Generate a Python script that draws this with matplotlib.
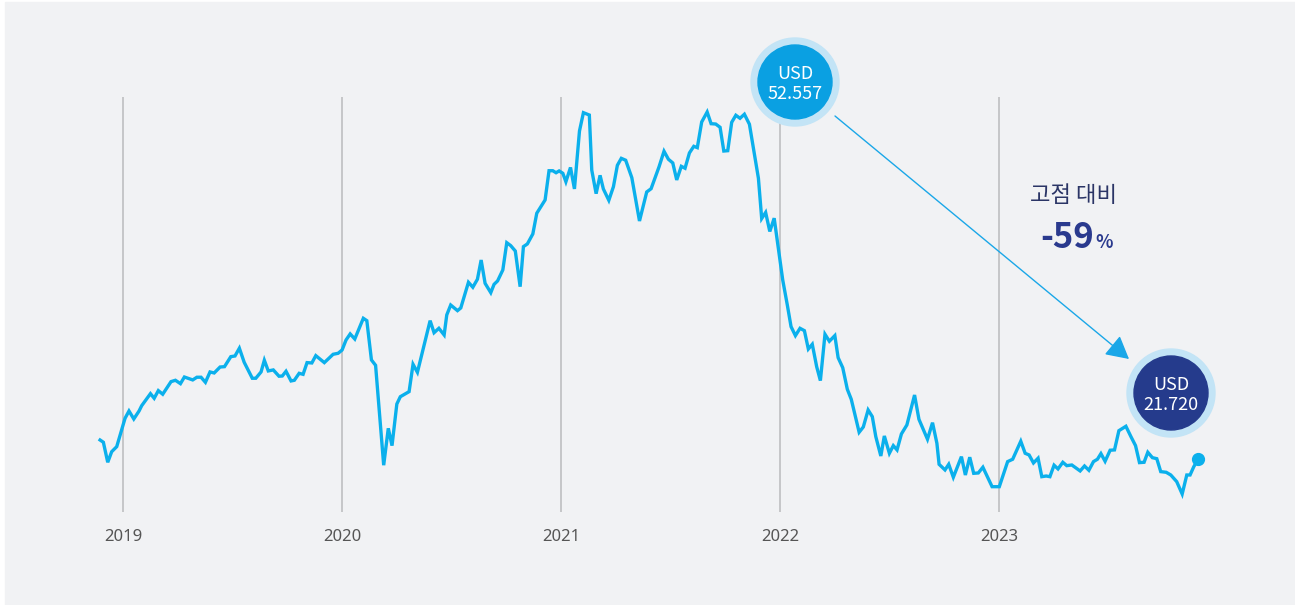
"""
    weekly price line 2018-11 ~ 2023-11
    peak vs latest bubble chart
"""
import matplotlib
matplotlib.use('Agg')
import matplotlib.pyplot as plt
from matplotlib.patches import Circle, Rectangle

plt.rcParams['font.family'] = ['Noto Sans CJK KR', 'DejaVu Sans']

# time in decimal years, price in USD
t_year = [2018.895, 2018.910, 2018.930, 2018.948, 2018.971, 2019.009, 2019.027, 2019.049, 2019.073, 2019.085,
          2019.125, 2019.142, 2019.161, 2019.181, 2019.219, 2019.239, 2019.262, 2019.280, 2019.318, 2019.337,
          2019.356, 2019.376, 2019.397, 2019.416, 2019.443, 2019.463, 2019.492, 2019.511, 2019.531, 2019.553,
          2019.590, 2019.606, 2019.630, 2019.645, 2019.663, 2019.686, 2019.712, 2019.727, 2019.744, 2019.767,
          2019.782, 2019.804, 2019.822, 2019.840, 2019.862, 2019.880, 2019.919, 2019.959, 2019.982, 2020.000,
          2020.018, 2020.037, 2020.058, 2020.097, 2020.113, 2020.134, 2020.153, 2020.190, 2020.211, 2020.228,
          2020.250, 2020.266, 2020.306, 2020.324, 2020.344, 2020.402, 2020.420, 2020.442, 2020.466, 2020.478,
          2020.496, 2020.527, 2020.542, 2020.577, 2020.597, 2020.618, 2020.635, 2020.653, 2020.679, 2020.694,
          2020.710, 2020.734, 2020.752, 2020.770, 2020.791, 2020.813, 2020.828, 2020.846, 2020.871, 2020.889,
          2020.927, 2020.945, 2020.962, 2020.977, 2020.991, 2021.008, 2021.022, 2021.043, 2021.061, 2021.084,
          2021.102, 2021.129, 2021.140, 2021.160, 2021.178, 2021.193, 2021.218, 2021.239, 2021.257, 2021.275,
          2021.295, 2021.323, 2021.358, 2021.391, 2021.411, 2021.447, 2021.470, 2021.490, 2021.510, 2021.528,
          2021.549, 2021.566, 2021.586, 2021.606, 2021.622, 2021.642, 2021.667, 2021.685, 2021.706, 2021.726,
          2021.743, 2021.761, 2021.779, 2021.798, 2021.817, 2021.837, 2021.860, 2021.901, 2021.916, 2021.934,
          2021.953, 2021.973, 2022.012, 2022.033, 2022.050, 2022.070, 2022.091, 2022.111, 2022.129, 2022.147,
          2022.167, 2022.184, 2022.205, 2022.225, 2022.250, 2022.265, 2022.286, 2022.307, 2022.325, 2022.361,
          2022.380, 2022.402, 2022.421, 2022.437, 2022.460, 2022.476, 2022.499, 2022.517, 2022.534, 2022.554,
          2022.579, 2022.614, 2022.634, 2022.673, 2022.696, 2022.716, 2022.726, 2022.753, 2022.770, 2022.791,
          2022.828, 2022.846, 2022.866, 2022.884, 2022.905, 2022.926, 2022.968, 2023.001, 2023.039, 2023.062,
          2023.099, 2023.119, 2023.137, 2023.157, 2023.178, 2023.195, 2023.215, 2023.232, 2023.251, 2023.269,
          2023.291, 2023.309, 2023.332, 2023.370, 2023.390, 2023.410, 2023.431, 2023.449, 2023.465, 2023.484,
          2023.507, 2023.527, 2023.547, 2023.579, 2023.602, 2023.623, 2023.641, 2023.662, 2023.679, 2023.700,
          2023.720, 2023.738, 2023.763, 2023.784, 2023.811, 2023.836, 2023.857, 2023.872, 2023.889, 2023.910]

price = [23.40, 23.20, 21.42, 22.36, 22.81, 25.33, 25.98, 25.27, 25.98, 26.45,
         27.52, 27.11, 27.79, 27.47, 28.59, 28.71, 28.41, 29.00, 28.74, 28.98,
         28.98, 28.53, 29.45, 29.36, 29.89, 29.92, 30.81, 30.87, 31.56, 30.31,
         28.89, 28.89, 29.45, 30.49, 29.54, 29.63, 29.07, 29.09, 29.51, 28.65,
         28.71, 29.33, 29.24, 30.28, 30.25, 30.90, 30.28, 31.02, 31.11, 31.40,
         32.29, 32.83, 32.38, 34.22, 34.01, 30.52, 30.04, 21.16, 24.44, 22.90,
         26.60, 27.25, 27.70, 30.13, 29.42, 34.01, 32.94, 33.33, 32.74, 34.52,
         35.40, 34.90, 35.14, 37.42, 36.98, 37.69, 39.40, 37.33, 36.50, 37.24,
         37.54, 38.52, 40.94, 40.68, 40.20, 37.03, 40.59, 40.83, 41.72, 43.56,
         44.74, 47.34, 47.34, 47.16, 47.32, 47.11, 46.36, 47.63, 45.72, 50.87,
         52.50, 52.29, 47.40, 45.30, 46.93, 45.72, 44.71, 45.92, 47.82, 48.44,
         48.27, 46.72, 42.87, 45.45, 45.74, 47.67, 49.07, 48.36, 48.03, 46.52,
         47.73, 47.56, 48.92, 49.51, 49.39, 51.67, 52.557, 51.52, 51.49, 51.20,
         49.09, 49.12, 51.64, 52.27, 52.00, 52.36, 51.47, 46.67, 43.09, 43.63,
         41.94, 43.12, 37.63, 35.40, 33.48, 32.68, 33.33, 33.12, 31.49, 31.91,
         29.92, 28.68, 32.80, 32.18, 32.68, 30.72, 29.83, 27.91, 27.02, 24.09,
         24.56, 26.07, 25.48, 23.70, 21.98, 23.76, 22.22, 22.90, 22.52, 23.94,
         24.74, 27.40, 25.24, 23.47, 24.94, 23.11, 21.24, 20.74, 21.24, 20.09,
         21.92, 20.29, 21.87, 20.44, 20.47, 20.98, 19.25, 19.25, 21.48, 21.69,
         23.29, 22.22, 22.07, 21.36, 21.78, 20.14, 20.20, 20.14, 21.16, 20.83,
         21.42, 21.12, 21.18, 20.65, 21.09, 20.71, 21.48, 21.69, 22.19, 21.51,
         22.49, 22.52, 24.23, 24.62, 23.70, 22.90, 21.39, 21.42, 22.31, 21.83,
         21.74, 20.59, 20.53, 20.29, 19.70, 18.60, 20.29, 20.29, 21.03, 21.720]

years = [2019, 2020, 2021, 2022, 2023]
year_labels = ['2019', '2020', '2021', '2022', '2023']

peak_label = 'USD\n52.557'
last_label = 'USD\n21.720'
change_title = '고점 대비'
change_value = '-59'

bg = '#f1f2f4'
line_blue = '#0bb0ec'


def draw_chart():
    fig = plt.figure(figsize=(12.95, 6.05), dpi=100)
    fig.patch.set_facecolor('white')
    fig.add_artist(Rectangle((5 / 1295, 0), 1290 / 1295, 603 / 605,
                             transform=fig.transFigure, color=bg, zorder=-1))

    ax = fig.add_axes([60 / 1295, 1 - 512 / 605, 1180 / 1295, 472 / 605])
    ax.set_facecolor('none')
    ax.set_xlim(2018.712, 2024.100)
    ax.set_ylim(17.0, 58.96)

    ax.vlines(years, 17.0, 53.89, color='#b9babc', lw=1.1, zorder=1)
    ax.plot(t_year, price, color=line_blue, lw=2.4, solid_joinstyle='miter', zorder=3)
    ax.plot(t_year[-1], price[-1], 'o', color=line_blue, ms=8.5, zorder=4)

    ax.set_xticks(years)
    ax.set_xticklabels(year_labels, fontsize=12, color='#555555', family=['Noto Sans', 'DejaVu Sans'])
    ax.tick_params(axis='x', length=0, pad=12)
    ax.set_yticks([])
    for s in ax.spines.values():
        s.set_visible(False)

    # overlay in pixel units for the call-outs
    ov = fig.add_axes([0, 0, 1, 1])
    ov.set_xlim(0, 1295)
    ov.set_ylim(605, 0)
    ov.axis('off')
    ov.patch.set_alpha(0)

    ov.annotate('', xy=(1129, 359), xytext=(835, 116),
                arrowprops=dict(arrowstyle='-|>,head_length=0.7,head_width=0.38',
                                color='#1aa7e8', lw=1.0, mutation_scale=20, shrinkA=0, shrinkB=0))

    ov.add_patch(Circle((795, 82), 44, color='#c3e4f6', zorder=5))
    ov.add_patch(Circle((795, 82), 37, color='#0aa0e2', zorder=6))
    ov.text(795, 84, peak_label, ha='center', va='center', color='white', fontsize=13,
            linespacing=1.2, zorder=7)

    ov.add_patch(Circle((1171, 393), 44, color='#c3e4f6', zorder=5))
    ov.add_patch(Circle((1171, 393), 37, color='#253b8c', zorder=6))
    ov.text(1171, 395, last_label, ha='center', va='center', color='white', fontsize=13,
            linespacing=1.2, zorder=7)

    ov.text(1073, 196, change_title, ha='center', va='center', color='#2b3566', fontsize=16)
    ov.text(1094, 237, change_value, ha='right', va='center', color='#2a3a8e', fontsize=25,
            fontweight='bold')
    ov.text(1095, 242, '%', ha='left', va='center', color='#2a3a8e', fontsize=13, fontweight='bold')

    fig.savefig('out.png', dpi=100, facecolor=fig.get_facecolor())


def main():
    draw_chart()


if __name__ == '__main__':
    main()
